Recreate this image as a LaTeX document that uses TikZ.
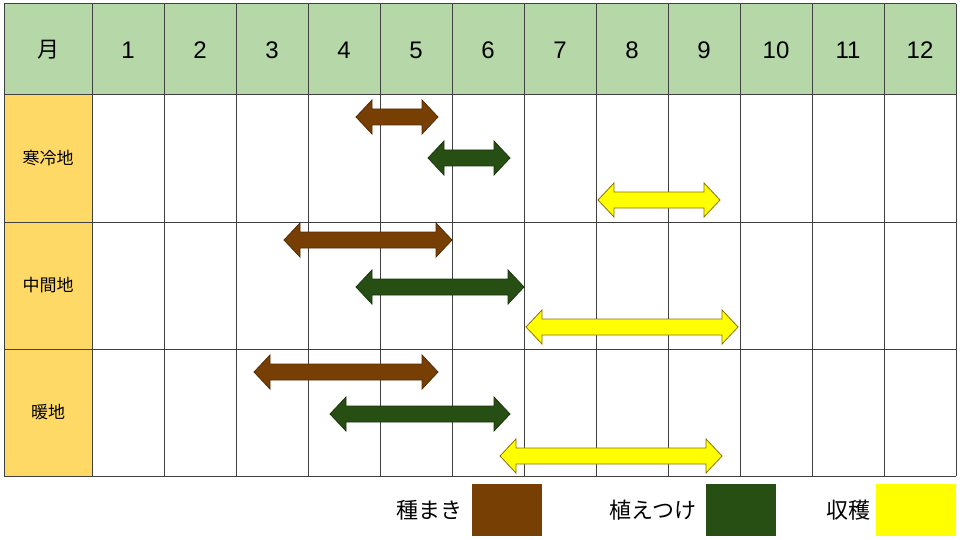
\documentclass[tikz,border=0pt]{standalone}
\usepackage{fontspec}
\setmainfont{Liberation Sans}
\newfontfamily\cjk{Noto Sans CJK JP}
\definecolor{hdr}{HTML}{B6D7A8}
\definecolor{lab}{HTML}{FFD966}
\definecolor{brn}{HTML}{783F04}
\definecolor{grn}{HTML}{274E13}
\definecolor{yel}{HTML}{FFFF00}
\tikzset{grid/.style={draw=black!75,line width=1pt},
 arr/.style={line width=0.8pt,line join=miter}}
\newcommand{\darr}[5]{% x1 x2 y fill draw
 \draw[arr,fill=#4,draw=#5] (#1,#3) -- (#1+16,#3-17) -- (#1+16,#3-8) -- (#2-16,#3-8) -- (#2-16,#3-17) -- (#2,#3) -- (#2-16,#3+17) -- (#2-16,#3+8) -- (#1+16,#3+8) -- (#1+16,#3+17) -- cycle;}
\begin{document}
\begin{tikzpicture}[x=1pt,y=-1pt]
\useasboundingbox[fill=white] (0,0) rectangle (960,540);
\fill[hdr] (4,4) rectangle (956,95);
\fill[lab] (4,95) rectangle (92,476);
\foreach \i in {0,...,12} \draw[grid] (92+72*\i,4) -- (92+72*\i,476);
\draw[grid] (4,4) -- (4,476);
\foreach \y in {4,95,222,349,476} \draw[grid] (4,\y) -- (956,\y);
\node[font=\cjk\fontsize{22}{24}\selectfont] (m) at (48,50) {月};
\foreach \i in {1,...,12} \node[font=\fontsize{24}{26}\selectfont] (h\i) at (92+72*\i-36,50) {\i};
\node[font=\cjk\fontsize{17}{20}\selectfont] (r1) at (48,158) {寒冷地};
\node[font=\cjk\fontsize{17}{20}\selectfont] (r2) at (48,285) {中間地};
\node[font=\cjk\fontsize{17}{20}\selectfont] (r3) at (48,412) {暖地};
\darr{356}{438}{117}{brn}{brn!70!black}
\darr{428}{510}{158}{grn}{grn!70!black}
\darr{598}{720}{200}{yel}{brn!60!yellow!80!black}
\darr{284}{452}{240}{brn}{brn!70!black}
\darr{356}{524}{287}{grn}{grn!70!black}
\darr{526}{738}{327}{yel}{brn!60!yellow!80!black}
\darr{254}{438}{372}{brn}{brn!70!black}
\darr{330}{510}{414}{grn}{grn!70!black}
\darr{500}{722}{456}{yel}{brn!60!yellow!80!black}
\node[font=\cjk\fontsize{22}{24}\selectfont,anchor=east] (l1) at (466,510) {種まき};
\fill[brn] (472,484) rectangle (542,536);
\node[font=\cjk\fontsize{22}{24}\selectfont,anchor=east] (l2) at (700,510) {植えつけ};
\fill[grn] (706,484) rectangle (776,536);
\node[font=\cjk\fontsize{22}{24}\selectfont,anchor=east] (l3) at (874,510) {収穫};
\fill[yel] (876,484) rectangle (956,536);
\end{tikzpicture}
\end{document}
